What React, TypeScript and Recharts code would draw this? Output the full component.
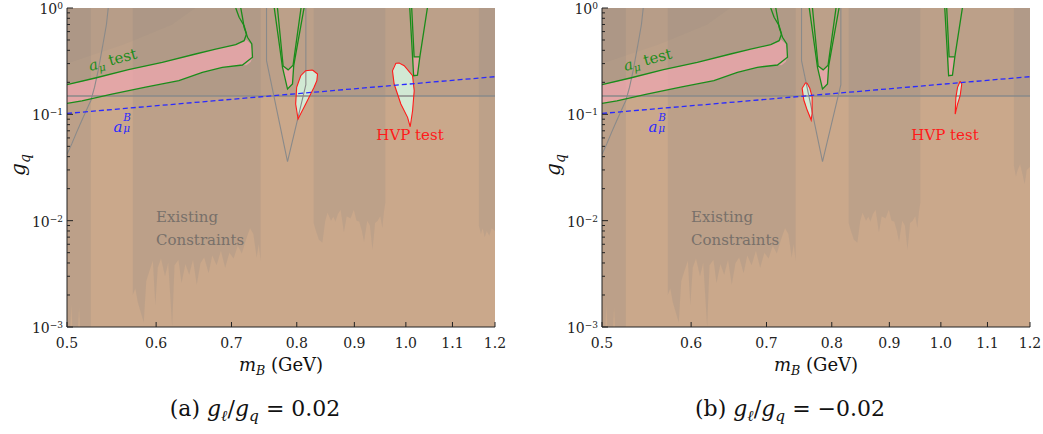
import React from "react";
import { Area, ComposedChart, Line, XAxis, YAxis } from "recharts";

type Pt = [number, number];
type Rng = [number, number, number];

const serif = '"DejaVu Serif", "Liberation Serif", "Times New Roman", serif';

// axes
const xTicks = [0.5, 0.6, 0.7, 0.8, 0.9, 1.0, 1.1, 1.2];
const yMajorTicks = [0.001, 0.01, 0.1, 1];
const yMajorExps = ["−3", "−2", "−1", "0"];
const yMinorTicks = [
  0.002, 0.003, 0.004, 0.005, 0.006, 0.007, 0.008, 0.009,
  0.02, 0.03, 0.04, 0.05, 0.06, 0.07, 0.08, 0.09,
  0.2, 0.3, 0.4, 0.5, 0.6, 0.7, 0.8, 0.9,
];
const yTicks = [...yMajorTicks, ...yMinorTicks];

// existing constraints: [m_B, g_low, g_high]
const constraintsAll: Rng[] = [[0.5, 0.001, 1], [1.2, 0.001, 1]];
const aboveLine: Rng[] = [[0.5, 0.149, 1], [1.2, 0.149, 1]];
const leftStrip: Rng[] = [
  [0.5, 0.001, 1], [0.5035, 0.001, 1], [0.5045, 0.0016, 1], [0.5055, 0.001, 1],
  [0.5115, 0.001, 1], [0.5125, 0.0015, 1], [0.5135, 0.001, 1], [0.525, 0.001, 1],
];
const bandLow: Rng[] = [
  [0.572, 0.002, 1], [0.575, 0.0023, 1], [0.578, 0.0017, 1], [0.585, 0.0011, 1],
  [0.588, 0.0027, 1], [0.592, 0.0034, 1], [0.596, 0.0042, 1], [0.599, 0.0016, 1],
  [0.602, 0.0036, 1], [0.606, 0.0044, 1], [0.611, 0.003, 1], [0.615, 0.004, 1],
  [0.62, 0.001, 1], [0.623, 0.0038, 1], [0.628, 0.0043, 1], [0.632, 0.0026, 1],
  [0.637, 0.0039, 1], [0.642, 0.0031, 1], [0.647, 0.0043, 1], [0.652, 0.0025, 1],
  [0.657, 0.004, 1], [0.662, 0.0045, 1], [0.668, 0.0032, 1], [0.673, 0.0047, 1],
  [0.679, 0.0038, 1], [0.685, 0.0052, 1], [0.691, 0.0036, 1], [0.697, 0.005, 1],
  [0.703, 0.0044, 1], [0.709, 0.0058, 1], [0.715, 0.0049, 1], [0.721, 0.0066, 1],
  [0.727, 0.0085, 1], [0.732, 0.0075, 1], [0.737, 0.0045, 1], [0.74, 0.006, 1],
  [0.743, 0.0042, 1],
];
const bandMid: Rng[] = [
  [0.828, 0.0095, 1], [0.832, 0.008, 1], [0.837, 0.0066, 1], [0.843, 0.0062, 1],
  [0.848, 0.01, 1], [0.852, 0.0119, 1], [0.858, 0.01, 1], [0.862, 0.0109, 1],
  [0.866, 0.0098, 1], [0.87, 0.0115, 1], [0.875, 0.0127, 1], [0.881, 0.0078, 1],
  [0.886, 0.011, 1], [0.893, 0.0105, 1], [0.899, 0.0127, 1], [0.904, 0.01, 1],
  [0.909, 0.0098, 1], [0.914, 0.008, 1], [0.918, 0.0063, 1], [0.924, 0.01, 1],
  [0.929, 0.009, 1], [0.934, 0.0053, 1], [0.939, 0.0095, 1], [0.944, 0.01, 1],
  [0.949, 0.011, 1], [0.953, 0.0086, 1], [0.956, 0.012, 1], [0.959, 0.015, 1],
];
const rightStripA: Rng[] = [
  [1.161, 0.009, 1], [1.166, 0.0075, 1], [1.17, 0.0085, 1], [1.175, 0.007, 1],
  [1.18, 0.008, 1], [1.186, 0.0072, 1], [1.192, 0.0085, 1], [1.2, 0.008, 1],
];
const rightStripB: Rng[] = [
  [1.161, 0.033, 1], [1.166, 0.026, 1], [1.17, 0.03, 1], [1.176, 0.034, 1],
  [1.182, 0.027, 1], [1.187, 0.022, 1], [1.192, 0.03, 1], [1.2, 0.032, 1],
];
// darker corner in the upper left
const upperLeft: Rng[] = [[0.5, 0.3, 1], [0.56, 0.45, 1], [0.62, 0.7, 1], [0.65, 1, 1]];

// gray boundary lines
const grayLeftCurve: Pt[] = [
  [0.5, 0.042], [0.505, 0.053], [0.51, 0.068], [0.515, 0.086], [0.52, 0.108],
  [0.525, 0.135], [0.529, 0.18], [0.533, 0.26], [0.536, 0.36], [0.539, 0.5],
  [0.542, 0.7], [0.544, 1],
];
const grayV: Pt[] = [[0.752, 1], [0.752, 0.32], [0.785, 0.036], [0.815, 0.19], [0.815, 1]];
const grayHorizontal: Pt[] = [[0.5, 0.149], [1.2, 0.149]];

// a_mu^B prediction
const blueLine: Pt[] = [[0.5, 0.102], [1.2, 0.226]];

// a_mu test contours
const amuUpper: Pt[] = [
  [0.5, 0.19], [0.5298, 0.2196], [0.567, 0.2628], [0.6076, 0.3084], [0.6504, 0.3693],
  [0.6777, 0.4113], [0.7061, 0.4516], [0.7183, 0.4925], [0.7218, 0.5691],
  [0.7183, 0.6816], [0.711, 0.8176], [0.7061, 1],
];
const amuLower: Pt[] = [
  [0.5, 0.127], [0.5155, 0.134], [0.5481, 0.155], [0.5872, 0.18], [0.6286, 0.207],
  [0.6595, 0.248], [0.687, 0.277], [0.7159, 0.291], [0.7307, 0.344], [0.7297, 0.459],
  [0.7233, 0.53], [0.7183, 0.658], [0.7159, 0.818], [0.7134, 1],
];
const amuFill: Rng[] = [
  [0.5, 0.127, 0.19], [0.5155, 0.134, 0.203], [0.5298, 0.143, 0.2196], [0.5481, 0.155, 0.24],
  [0.567, 0.167, 0.2628], [0.5872, 0.18, 0.284], [0.6076, 0.192, 0.3084], [0.6286, 0.207, 0.337],
  [0.6504, 0.235, 0.3693], [0.6595, 0.248, 0.385], [0.6777, 0.265, 0.4113], [0.687, 0.277, 0.425],
  [0.7061, 0.285, 0.4516], [0.7183, 0.289, 0.4925], [0.7218, 0.29, 0.5], [0.728, 0.31, 0.46],
  [0.7307, 0.344, 0.4],
];
const rhoOuter: Pt[] = [[0.764, 1], [0.777, 0.277], [0.785, 0.173], [0.793, 0.193], [0.795, 0.287], [0.812, 1]];
const rhoInner: Pt[] = [[0.769, 1], [0.778, 0.285], [0.786, 0.262], [0.794, 0.29], [0.807, 1]];
const rhoFill: Rng[] = [[0.777, 0.277, 0.285], [0.785, 0.173, 0.264], [0.793, 0.193, 0.284], [0.795, 0.287, 0.29]];
const phiOuter: Pt[] = [[1.008, 1], [1.016, 0.231], [1.024, 0.233], [1.029, 0.347], [1.045, 1]];
const phiInner: Pt[] = [[1.012, 1], [1.017, 0.347], [1.029, 0.347]];
const phiFill: Rng[] = [[1.016, 0.231, 0.347], [1.024, 0.233, 0.347], [1.029, 0.347, 0.347]];

// HVP test contours, panel (a)
const hvpA1: Pt[] = [
  [0.8261, 0.261], [0.8347, 0.2394], [0.8335, 0.2071], [0.8288, 0.1795], [0.8147, 0.125],
  [0.8021, 0.0903], [0.7982, 0.125], [0.7998, 0.1795], [0.8065, 0.2307], [0.8147, 0.2571],
  [0.8261, 0.261],
];
const hvpA1Fill: Rng[] = [
  [0.7982, 0.125, 0.125], [0.7998, 0.107, 0.1795], [0.8021, 0.0903, 0.196], [0.8065, 0.099, 0.2307],
  [0.8147, 0.125, 0.2571], [0.8261, 0.165, 0.261], [0.8288, 0.1795, 0.254], [0.8335, 0.2071, 0.242],
  [0.8347, 0.2394, 0.2394],
];
const hvpA2: Pt[] = [
  [0.9797, 0.3018], [0.973, 0.2571], [0.9763, 0.1928], [0.9898, 0.125], [1.0035, 0.0937],
  [1.0089, 0.0764], [1.0138, 0.1081], [1.0172, 0.1667], [1.0138, 0.2307], [0.9966, 0.2866],
  [0.9864, 0.3037], [0.9797, 0.3018],
];
const hvpA2Fill: Rng[] = [
  [0.973, 0.2571, 0.2571], [0.9763, 0.1928, 0.29], [0.9797, 0.173, 0.3018], [0.9864, 0.14, 0.3037],
  [0.9898, 0.125, 0.3], [0.9966, 0.108, 0.2866], [1.0035, 0.0937, 0.263], [1.0089, 0.0764, 0.245],
  [1.0138, 0.1081, 0.2307], [1.0172, 0.1667, 0.1667],
];
// HVP test contours, panel (b)
const hvpB1: Pt[] = [
  [0.7582, 0.1983], [0.753, 0.1757], [0.7555, 0.1363], [0.7607, 0.1097], [0.767, 0.0884],
  [0.7685, 0.1022], [0.7685, 0.1464], [0.7648, 0.1757], [0.7607, 0.1957], [0.7582, 0.1983],
];
const hvpB1Fill: Rng[] = [
  [0.753, 0.1757, 0.1757], [0.7555, 0.1363, 0.19], [0.7582, 0.125, 0.1983], [0.7607, 0.1097, 0.1957],
  [0.7648, 0.097, 0.1757], [0.767, 0.0884, 0.16], [0.7685, 0.1022, 0.1464],
];
const hvpB2: Pt[] = [
  [1.0402, 0.2044], [1.0347, 0.1795], [1.0312, 0.1445], [1.0297, 0.1006], [1.0347, 0.125],
  [1.0402, 0.1496], [1.0436, 0.1928], [1.0402, 0.2044],
];
const hvpB2Fill: Rng[] = [
  [1.0297, 0.1006, 0.1006], [1.0312, 0.105, 0.1445], [1.0347, 0.125, 0.1795],
  [1.0402, 0.1496, 0.2044], [1.0436, 0.1928, 0.1928],
];

const rng = (a: Rng[]) => a.map(([x, lo, hi]) => ({ x, r: [lo, hi] }));
const pts = (a: Pt[]) => a.map(([x, y]) => ({ x, y }));

const TAN = "#caa88b";
const GRAY = "#7d7d82";
const GREEN = "#1a8c1a";
const RED = "#ff1a1a";
const BLUE = "#2a2aff";
const LINEGRAY = "#8a8a8a";

const fillArea = (id: string, d: Rng[], color: string, opacity: number) => (
  <Area
    key={id}
    data={rng(d)}
    dataKey="r"
    type="linear"
    stroke="none"
    fill={color}
    fillOpacity={opacity}
    dot={false}
    activeDot={false}
    isAnimationActive={false}
  />
);

const lineSeries = (id: string, d: Pt[], color: string, width: number, dash?: string) => (
  <Line
    key={id}
    data={pts(d)}
    dataKey="y"
    type="linear"
    stroke={color}
    strokeWidth={width}
    strokeDasharray={dash}
    dot={false}
    activeDot={false}
    isAnimationActive={false}
  />
);

const BottomTick = (props: any) => {
  const { x, y, payload } = props;
  return (
    <g>
      <line x1={x} y1={y} x2={x} y2={y - 5} stroke="#222" />
      <text x={x} y={y + 21} textAnchor="middle" fontSize={14} fontFamily={serif} fill="#222">
        {Number(payload.value).toFixed(1)}
      </text>
    </g>
  );
};

const TopTick = (props: any) => {
  const { x, y } = props;
  return <line x1={x} y1={y} x2={x} y2={y + 5} stroke="#222" />;
};

const LeftTick = (props: any) => {
  const { x, y, payload } = props;
  const i = yMajorTicks.indexOf(payload.value);
  const len = i >= 0 ? 6 : 3;
  return (
    <g>
      <line x1={x} y1={y} x2={x + len} y2={y} stroke="#222" />
      {i >= 0 && (
        <text x={x - 4} y={y + 6} textAnchor="end" fontSize={14} fontFamily={serif} fill="#222">
          10
          <tspan dy={-5} fontSize={9}>
            {yMajorExps[i]}
          </tspan>
        </text>
      )}
    </g>
  );
};

const RightTick = (props: any) => {
  const { x, y, payload } = props;
  const len = yMajorTicks.indexOf(payload.value) >= 0 ? 6 : 3;
  return <line x1={x} y1={y} x2={x - len} y2={y} stroke="#222" />;
};

type NoteProps = {
  x: number;
  y: number;
  color: string;
  size: number;
  rotate?: number;
  children: React.ReactNode;
};

const Note = ({ x, y, color, size, rotate = 0, children }: NoteProps) => (
  <div
    style={{
      position: "absolute",
      left: x,
      top: y,
      transform: `translate(-50%, -50%) rotate(${rotate}deg)`,
      color,
      fontSize: size,
      fontFamily: serif,
      whiteSpace: "nowrap",
      lineHeight: 1,
    }}
  >
    {children}
  </div>
);

const sub = (s: string, italic = true) => (
  <span style={{ fontSize: "0.7em", verticalAlign: "-0.3em", fontStyle: italic ? "italic" : "normal" }}>{s}</span>
);

type PanelProps = {
  left: number;
  caption: React.ReactNode;
  hvp: Pt[][];
  hvpFill: Rng[][];
  rightStrip: Rng[];
};

function Panel({ left, caption, hvp, hvpFill, rightStrip }: PanelProps) {
  return (
    <div style={{ position: "absolute", left, top: 0, width: 520, height: 434 }}>
      <ComposedChart width={520} height={400} margin={{ top: 8, right: 25, left: 7, bottom: 43 }}>
        <XAxis
          dataKey="x"
          type="number"
          scale="log"
          domain={[0.5, 1.2]}
          allowDataOverflow
          ticks={xTicks}
          interval={0}
          tickSize={0}
          tickMargin={0}
          tickLine={false}
          tick={<BottomTick />}
          height={30}
          axisLine={{ stroke: "#222" }}
        />
        <XAxis
          xAxisId="top"
          orientation="top"
          dataKey="x"
          type="number"
          scale="log"
          domain={[0.5, 1.2]}
          allowDataOverflow
          ticks={xTicks}
          interval={0}
          tickSize={0}
          tickMargin={0}
          tickLine={false}
          tick={<TopTick />}
          height={0}
          axisLine={{ stroke: "#444" }}
        />
        <YAxis
          type="number"
          scale="log"
          domain={[0.001, 1]}
          allowDataOverflow
          ticks={yTicks}
          interval={0}
          tickSize={0}
          tickMargin={0}
          tickLine={false}
          tick={<LeftTick />}
          width={60}
          axisLine={{ stroke: "#222" }}
        />
        <YAxis
          yAxisId="right"
          orientation="right"
          type="number"
          scale="log"
          domain={[0.001, 1]}
          allowDataOverflow
          ticks={yTicks}
          interval={0}
          tickSize={0}
          tickMargin={0}
          tickLine={false}
          tick={<RightTick />}
          width={0}
          axisLine={{ stroke: "#444" }}
        />
        {fillArea("base", constraintsAll, TAN, 1)}
        {fillArea("above", aboveLine, GRAY, 0.18)}
        {fillArea("upperLeft", upperLeft, GRAY, 0.08)}
        {fillArea("leftStrip", leftStrip, GRAY, 0.18)}
        {fillArea("bandLow", bandLow, GRAY, 0.18)}
        {fillArea("bandMid", bandMid, GRAY, 0.16)}
        {fillArea("rightStrip", rightStrip, GRAY, 0.16)}
        {fillArea("amuFill", amuFill, "#f2a8b2", 0.72)}
        {fillArea("rhoFill", rhoFill, "#f2a8b2", 0.72)}
        {fillArea("phiFill", phiFill, "#f2a8b2", 0.72)}
        {hvpFill.map((d, i) => fillArea(`hvpFill${i}`, d, "#d4f2de", 0.88))}
        {lineSeries("grayLeft", grayLeftCurve, LINEGRAY, 1.1)}
        {lineSeries("grayV", grayV, LINEGRAY, 1.1)}
        {lineSeries("grayH", grayHorizontal, LINEGRAY, 1.5)}
        {lineSeries("amuUpper", amuUpper, GREEN, 1.3)}
        {lineSeries("amuLower", amuLower, GREEN, 1.3)}
        {lineSeries("rhoOuter", rhoOuter, GREEN, 1.3)}
        {lineSeries("rhoInner", rhoInner, GREEN, 1.3)}
        {lineSeries("phiOuter", phiOuter, GREEN, 1.3)}
        {lineSeries("phiInner", phiInner, GREEN, 1.3)}
        {hvp.map((d, i) => lineSeries(`hvp${i}`, d, RED, 1.1))}
        {lineSeries("blue", blueLine, BLUE, 1.3, "5 3")}
      </ComposedChart>

      <Note x={113} y={61} color={GREEN} size={15} rotate={-15}>
        <i>a</i>
        {sub("μ")} test
      </Note>
      <Note x={122} y={126} color={BLUE} size={15}>
        <i>a</i>
        <span style={{ display: "inline-block", position: "relative", width: "0.55em", height: "1em" }}>
          <span style={{ position: "absolute", left: 1, top: "-0.5em", fontSize: "0.7em", lineHeight: 1, fontStyle: "italic" }}>B</span>
          <span style={{ position: "absolute", left: 1, top: "0.55em", fontSize: "0.7em", lineHeight: 1, fontStyle: "italic" }}>μ</span>
        </span>
      </Note>
      <Note x={410} y={135} color={RED} size={15}>
        HVP test
      </Note>
      <div
        style={{
          position: "absolute",
          left: 156,
          top: 206,
          color: "#78706a",
          fontSize: 15,
          fontFamily: serif,
          lineHeight: "23px",
        }}
      >
        Existing
        <br />
        Constraints
      </div>
      <Note x={20} y={165} color="#111" size={20} rotate={-90}>
        <i>g</i>
        {sub("q")}
      </Note>
      <Note x={281} y={367} color="#111" size={18}>
        <i>m</i>
        {sub("B")} (GeV)
      </Note>
      <Note x={255} y={411} color="#111" size={22}>
        {caption}
      </Note>
    </div>
  );
}

export default function App() {
  return (
    <div style={{ position: "absolute", left: 0, top: 0, width: 1043, height: 434, background: "#fff" }}>
      <Panel
        left={0}
        caption={
          <>
            (a) <i>g</i>
            {sub("ℓ")}/<i>g</i>
            {sub("q")} = 0.02
          </>
        }
        hvp={[hvpA1, hvpA2]}
        hvpFill={[hvpA1Fill, hvpA2Fill]}
        rightStrip={rightStripA}
      />
      <Panel
        left={535}
        caption={
          <>
            (b) <i>g</i>
            {sub("ℓ")}/<i>g</i>
            {sub("q")} = −0.02
          </>
        }
        hvp={[hvpB1, hvpB2]}
        hvpFill={[hvpB1Fill, hvpB2Fill]}
        rightStrip={rightStripB}
      />
    </div>
  );
}
